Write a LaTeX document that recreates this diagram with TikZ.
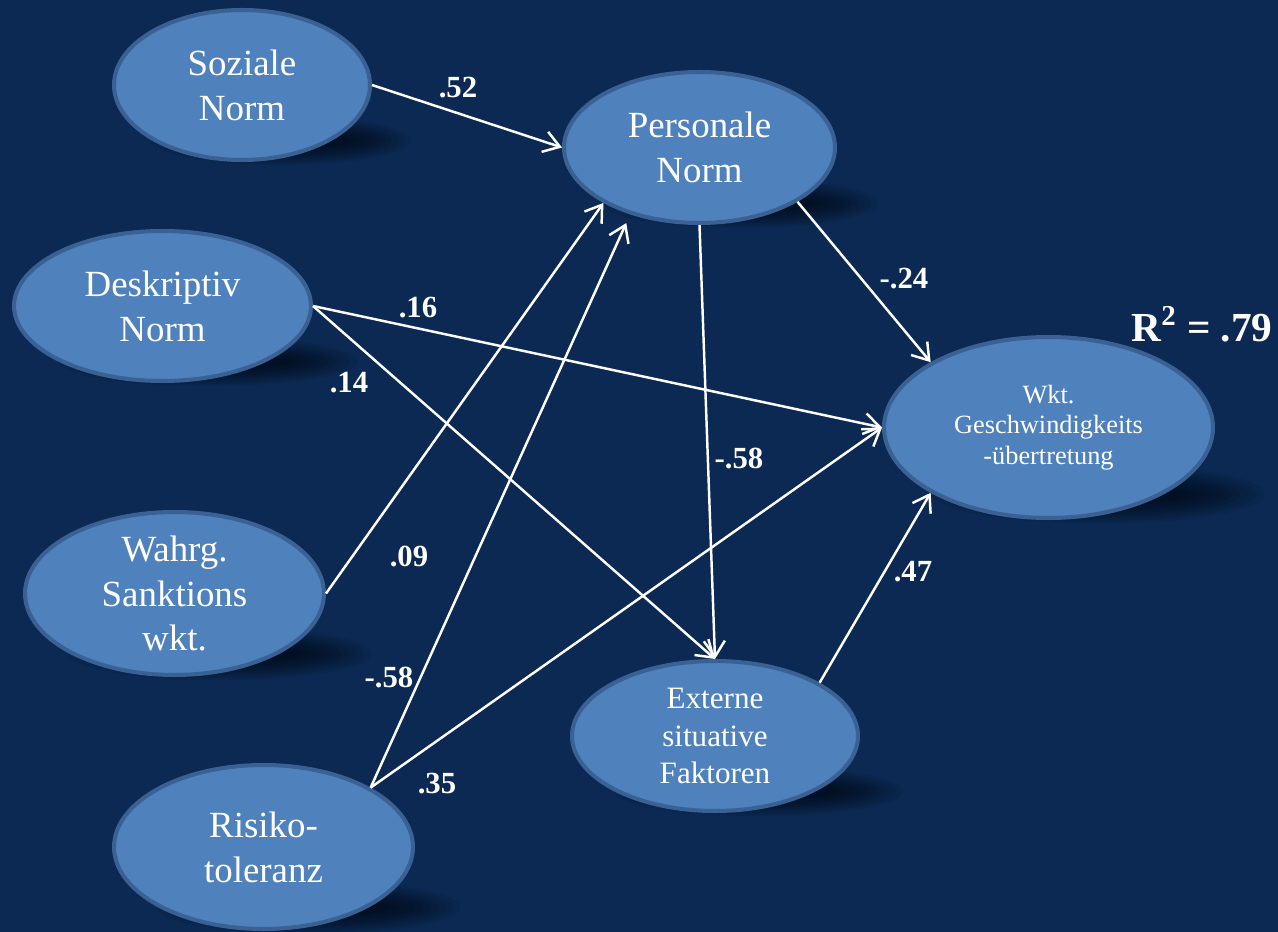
\documentclass[tikz,border=0pt]{standalone}
\usepackage{fontspec}
\setmainfont{Liberation Serif}
\usetikzlibrary{shapes.geometric,arrows.meta,calc}
\definecolor{bgnavy}{HTML}{0B2952}
\definecolor{nodefill}{HTML}{4F81BD}
\definecolor{nodeedge}{HTML}{3A6193}
\tikzset{
  latent/.style={ellipse, fill=nodefill, draw=nodeedge, line width=2.3pt, inner sep=0pt},
  inner/.style={text=white, align=center, inner sep=0pt},
  big/.style={font=\fontsize{21}{25.5}\selectfont},
  mid/.style={font=\fontsize{17.7}{21.5}\selectfont},
  small/.style={font=\fontsize{15}{17.5}\selectfont},
  conn/.style={draw=white, line width=1.4pt, -{Straight Barb[length=9pt,width=12pt]}},
  coef/.style={text=white, inner sep=0pt, font=\bfseries\fontsize{17.5}{20}\selectfont},
}
\newcommand\ovalshade[4]{%
  \foreach \k in {0,...,9}{%
    \fill[black, opacity=0.07] ({#1+0.3*#3},{#2+0.72*#4}) ellipse [x radius={(1-0.05*\k)*#3*0.02cm}, y radius={(0.32-0.025*\k)*#4*0.02cm}];
  }}
\begin{document}
\begin{tikzpicture}[x=0.02cm, y=-0.02cm]
\fill[bgnavy] (0,0) rectangle (1278,932);
\useasboundingbox (0,0) rectangle (1278,932);

% shadows
\ovalshade{242}{85}{130}{77}
\ovalshade{699.5}{147.5}{137.5}{77.5}
\ovalshade{162.5}{306}{150.5}{77}
\ovalshade{174.5}{593.5}{151.5}{83.5}
\ovalshade{263.5}{847}{151.5}{84}
\ovalshade{715}{736}{145}{77}
\ovalshade{1048.5}{427.5}{166.5}{92.5}

% nodes
\node[latent, minimum width=5.12cm, minimum height=3.00cm,
  label={[inner, big]center:Soziale\\Norm}] (sn) at (242,85) {};
\node[latent, minimum width=5.42cm, minimum height=3.02cm,
  label={[inner, big]center:Personale\\Norm}] (pn) at (699.5,147.5) {};
\node[latent, minimum width=5.94cm, minimum height=3.00cm,
  label={[inner, big]center:Deskriptiv\\Norm}] (dn) at (162.5,306) {};
\node[latent, minimum width=5.98cm, minimum height=3.26cm,
  label={[inner, big]center:Wahrg.\\Sanktions\\wkt.}] (ws) at (174.5,593.5) {};
\node[latent, minimum width=5.98cm, minimum height=3.28cm,
  label={[inner, big]center:Risiko-\\toleranz}] (rt) at (263.5,847) {};
\node[latent, minimum width=5.72cm, minimum height=3.00cm,
  label={[inner, mid]center:Externe\\situative\\Faktoren}] (ex) at (715,736) {};
\node[latent, minimum width=6.58cm, minimum height=3.62cm,
  label={[inner, small]center:Wkt.\\Geschwindigkeits\\-übertretung}] (wk) at (1048.5,427.5) {};

% connectors
\draw[conn] (sn.east) -- (pn.west);
\draw[conn] (pn.-29.4) -- (wk.151.3);
\draw[conn] (dn.east) -- (wk.west);
\draw[conn] (dn.east) -- (ex.north);
\draw[conn] (pn.south) -- (ex.north);
\draw[conn] (ws.east) -- (pn.210);
\draw[conn, shorten >=0.19cm] (rt.29.5) -- (pn.224.7);
\draw[conn] (rt.29.5) -- (wk.west);
\draw[conn] (ex.27.2) -- (wk.209.3);

% coefficients
\node[coef] (c1) at (458,88) {.52};
\node[coef] (c2) at (904,279) {-.24};
\node[coef] (c3) at (418,308) {.16};
\node[coef] (c4) at (349,383) {.14};
\node[coef] (c5) at (739,458) {-.58};
\node[coef] (c6) at (409,556) {.09};
\node[coef] (c7) at (389,677) {-.58};
\node[coef] (c8) at (437,784) {.35};
\node[coef] (c9) at (913,572) {.47};
\node[text=white, inner sep=0pt, font=\bfseries\fontsize{23.5}{26}\selectfont] (r2) at (1202,324) {R\textsuperscript{2} = .79};
\end{tikzpicture}
\end{document}
